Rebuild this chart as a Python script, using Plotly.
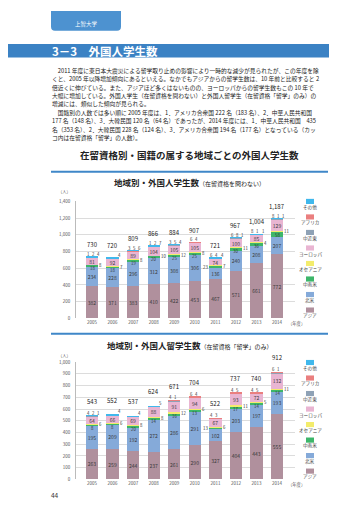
import plotly.graph_objects as go

W, H = 360, 509
FONT = "Noto Sans CJK JP"

years = ["2005", "2006", "2007", "2008", "2009", "2010", "2011", "2012", "2013", "2014"]
regions = ["アジア", "北米", "中南米", "オセアニア", "ヨーロッパ", "中近東", "アフリカ", "その他"]
region_colors = ["#b0909d", "#85aad9", "#3db66a", "#f3ec6c", "#e9b5d2", "#8fa2b6", "#ea7f7f", "#40b8ec"]

# Chart 1: all residence statuses
all_asia     = [382, 371, 383, 410, 422, 453, 467, 571, 661, 772]
all_namerica = [234, 228, 296, 312, 308, 306, 136, 240, 208, 207]
all_latam    = [18, 18, 19, 20, 25, 25, 23, 30, 36, 58]
all_oceania  = [8, 7, 8, 10, 12, 8, 7, 11, 4, 11]
all_europe   = [81, 92, 89, 104, 105, 105, 74, 100, 85, 129]
all_mideast  = [1, 0, 3, 1, 3, 6, 6, 6, 8, 8]
all_africa   = [2, 0, 5, 2, 5, 4, 4, 8, 1, 1]
all_other    = [4, 4, 6, 7, 4, 0, 4, 1, 1, 1]

# Chart 2: status "留学" only
stu_asia     = [263, 259, 244, 237, 261, 290, 327, 404, 443, 555]
stu_namerica = [195, 209, 192, 272, 286, 291, 102, 203, 197, 193]
stu_latam    = [8, 8, 20, 14, 16, 13, 13, 17, 14, 14]
stu_oceania  = [6, 6, 8, 8, 12, 6, 6, 11, 5, 11]
stu_europe   = [64, 66, 69, 88, 91, 94, 67, 93, 72, 132]
stu_mideast  = [4, 0, 0, 0, 4, 6, 4, 4, 4, 6]
stu_africa   = [2, 0, 0, 0, 1, 4, 3, 5, 5, 1]
stu_other    = [1, 4, 4, 5, 0, 0, 0, 0, 0, 0]

body_lines = [
    "\u30002011 年度に東日本大震災による留学取り止めの影響により一時的な減少が見られたが、この年度を除",
    "くと、2005 年以降増加傾向にあるといえる。なかでもアジアからの留学生数は、10 年前と比較すると 2",
    "倍近くに伸びている。また、アジアほど多くはないものの、ヨーロッパからの留学生数もこの 10 年で",
    "大幅に増加している。外国人学生（在留資格を問わない）と外国人留学生（在留資格「留学」のみ）の",
    "増減には、類似した傾向が見られる。",
    "\u3000国籍別の人数では多い順に 2005 年度は、1．アメリカ合衆国 222 名（183 名）、2．中華人民共和国",
    "177 名（148 名）、3．大韓民国 120 名（64 名）であったが、2014 年度には、1．中華人民共和国\u3000435",
    "名（353 名）、2．大韓民国 228 名（124 名）、3．アメリカ合衆国 194 名（177 名）となっている（カッ",
    "コ内は在留資格「留学」の人数）。",
]


def px(x):
    return x / W


def py(y):
    return 1 - y / H


def note(x, y, text, size, color="#222", xanchor="center", yanchor="middle"):
    return dict(x=px(x), y=py(y), xref="paper", yref="paper", text=text, showarrow=False,
                xanchor=xanchor, yanchor=yanchor, borderpad=0,
                font=dict(size=size, color=color, family=FONT))


fig = go.Figure()
xs = list(range(len(years)))
series1 = [all_asia, all_namerica, all_latam, all_oceania, all_europe, all_mideast, all_africa, all_other]
series2 = [stu_asia, stu_namerica, stu_latam, stu_oceania, stu_europe, stu_mideast, stu_africa, stu_other]

annotations = []
shapes = []

# (series, x axis, y axis, total label shift, pixels per unit on the value axis)
for ser, xa, ya, totshift, ppu in [(series1, "x", "y", 7, 118.3 / 1400), (series2, "x2", "y2", 9, 118.7 / 1000)]:
    for i, vals in enumerate(ser):
        show_text = i in (0, 1, 4)
        fig.add_trace(go.Bar(
            x=xs, y=vals, name=regions[i], xaxis=xa, yaxis=ya, width=0.6,
            marker=dict(color=region_colors[i], line=dict(width=0)),
            text=[str(v) for v in vals] if show_text else None,
            textposition="inside" if show_text else "none",
            insidetextanchor="middle", textangle=0, constraintext="none",
            textfont=dict(size=5, color="#3a3a3a", family=FONT),
            showlegend=False, hoverinfo="skip",
        ))
    for j in xs:
        base_green = ser[0][j] + ser[1][j]
        base_oce = base_green + ser[2][j]
        top_eu = base_oce + ser[3][j] + ser[4][j]
        total = sum(s[j] for s in ser)
        small = dict(size=4.3, color="#333", family=FONT)
        if ser[2][j]:
            na_mid = ser[0][j] + ser[1][j] / 2
            eu_mid = base_oce + ser[3][j] + ser[4][j] / 2
            if (eu_mid - na_mid) * ppu < 13:
                annotations.append(dict(x=j - 0.31, y=base_green + ser[2][j] / 2, xref=xa, yref=ya,
                                        text=str(ser[2][j]), showarrow=False, font=small,
                                        xanchor="right", yanchor="middle", borderpad=0))
            else:
                annotations.append(dict(x=j, y=base_oce, xref=xa, yref=ya, yshift=1,
                                        text=str(ser[2][j]), showarrow=False, font=small,
                                        xanchor="center", yanchor="top", borderpad=0))
        if ser[3][j]:
            annotations.append(dict(x=j + 0.3, y=base_oce + ser[3][j] / 2, xref=xa, yref=ya,
                                    text=str(ser[3][j]), showarrow=False, font=small,
                                    xanchor="left", yanchor="middle", borderpad=0))
        for k, off in zip((5, 6, 7), (-0.18, 0.07, 0.32)):
            if ser[k][j]:
                annotations.append(dict(x=j + off, y=top_eu, xref=xa, yref=ya, yshift=0,
                                        text=str(ser[k][j]), showarrow=False, font=small,
                                        xanchor="center", yanchor="bottom", borderpad=0))
        annotations.append(dict(x=j, y=total, xref=xa, yref=ya, yshift=totshift,
                                text=f"{total:,}", showarrow=False, xanchor="center",
                                yanchor="bottom", borderpad=0,
                                font=dict(size=6, color="#222", family=FONT)))

# Legends (manual, icon above label)
for y0 in (192.7, 355.7):
    for n, i in enumerate(reversed(range(len(regions)))):
        yc = y0 + 15.7 * n
        shapes.append(dict(type="rect", xref="paper", yref="paper", layer="below",
                           x0=px(298), x1=px(306), y0=py(yc - 2.6), y1=py(yc + 2.6),
                           fillcolor=region_colors[i], line=dict(width=0)))
        annotations.append(note(302, yc + 5.8, regions[i], 4.6, "#444"))

# Header tab
tab = (f"M {px(43)},{py(0)} L {px(113)},{py(0)} L {px(113)},{py(16)} "
       f"Q {px(113)},{py(20)} {px(109)},{py(20)} L {px(47)},{py(20)} "
       f"Q {px(43)},{py(20)} {px(43)},{py(16)} Z")
shapes.append(dict(type="path", path=tab, xref="paper", yref="paper", layer="below",
                   fillcolor="#4d92d0", line=dict(width=0)))
annotations.append(note(78, 13.5, "上智大学", 5.5, "white"))

# Section bar
shapes.append(dict(type="rect", xref="paper", yref="paper", x0=0, x1=px(321), layer="below",
                   y0=py(47), y1=py(33.5), fillcolor="#3b82c4", line=dict(width=0)))
annotations.append(note(43, 40.5, "<b>3－3\u3000外国人学生数</b>", 11.5, "white", xanchor="left"))

# Body text
for n, line in enumerate(body_lines):
    annotations.append(note(43, 60 + 8.5 * n, line, 5.75, "#222", xanchor="left"))

# Titles
annotations.append(note(181, 146, "<b>在留資格別・国籍の属する地域ごとの外国人学生数</b>", 9.5))
for yy in (162.7, 326.7):
    shapes.append(dict(type="line", xref="paper", yref="paper", x0=px(43), x1=px(320),
                       layer="below", y0=py(yy), y1=py(yy), line=dict(color="#3f87c8", width=2)))
annotations.append(note(181, 173, "<b>地域別・外国人学生数</b><span style='font-size:6px'>（在留資格を問わない）</span>", 8.5))
annotations.append(note(182, 337.7, "<b>地域別・外国人留学生数</b><span style='font-size:6px'>（在留資格「留学」のみ）</span>", 8.5))

# Unit labels
for yy in (182, 347.7):
    annotations.append(note(56, yy, "（人）", 4.3, "#555"))
for yy in (316.7, 479):
    annotations.append(note(279, yy, "（年度）", 4.3, "#555", xanchor="left"))
annotations.append(note(47, 490, "44", 6.5, "#333"))

xdom = [px(68), px(287)]
tickfont = dict(size=4.5, color="#555", family=FONT)
xcommon = dict(domain=xdom, range=[-0.78, 9.87], tickvals=xs, ticktext=years, tickfont=tickfont,
               showgrid=False, showline=False, zeroline=False, ticks="", ticklen=2)
ycommon = dict(gridcolor="#dcdcdc", gridwidth=0.8, showline=True, linecolor="#bbbbbb", linewidth=0.8,
               tickformat=",d", tickfont=tickfont, ticks="outside", ticklen=4,
               tickcolor="rgba(0,0,0,0)", zeroline=False)

fig.update_layout(
    width=W, height=H, autosize=False, margin=dict(l=0, r=0, t=0, b=0),
    paper_bgcolor="white", plot_bgcolor="white", barmode="stack",
    font=dict(family=FONT),
    xaxis=dict(anchor="y", **xcommon),
    yaxis=dict(anchor="x", domain=[py(311), py(192.7)], range=[0, 1400], dtick=200, **ycommon),
    xaxis2=dict(anchor="y2", **xcommon),
    yaxis2=dict(anchor="x2", domain=[py(474), py(355.3)], range=[0, 1000], dtick=100, **ycommon),
    annotations=annotations, shapes=shapes,
)

fig.write_html("out.html")
